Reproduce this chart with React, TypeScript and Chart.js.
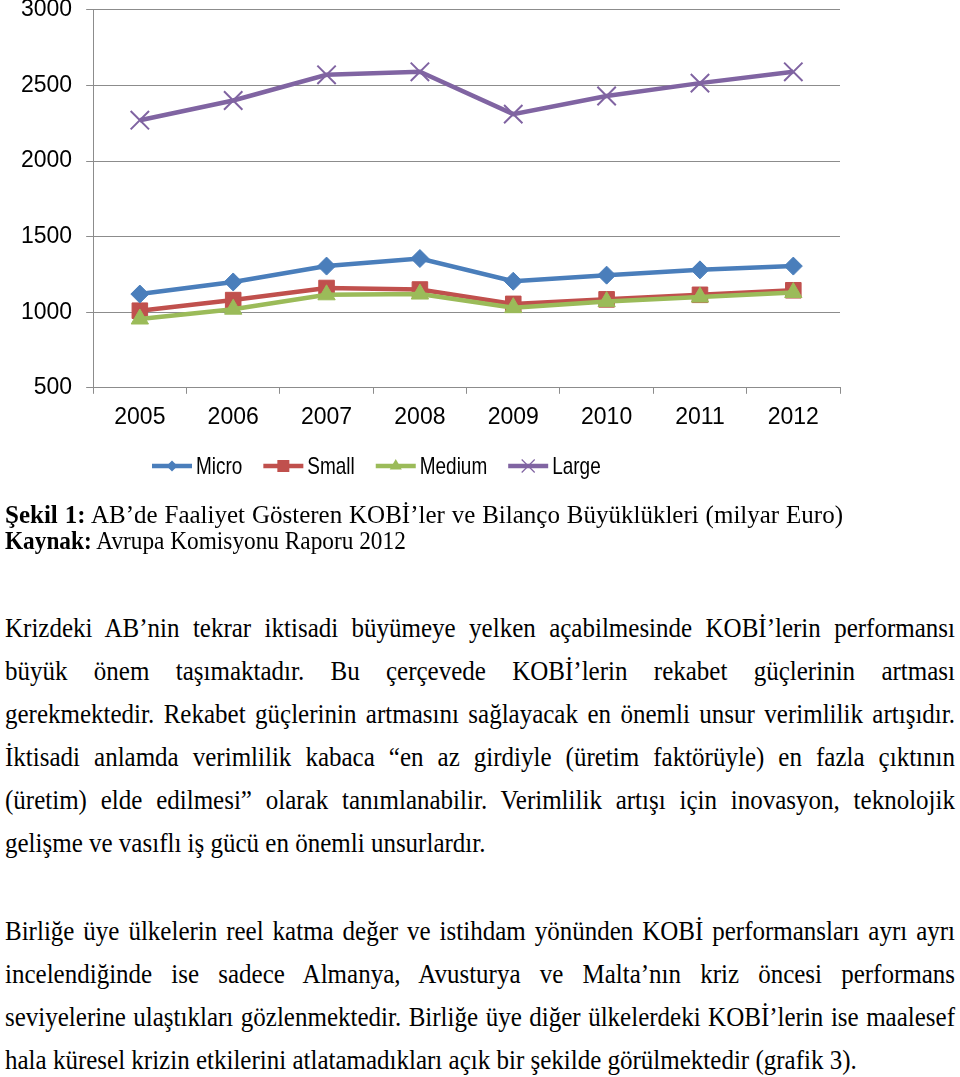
import React, { useEffect, useRef } from "react";
import { Chart, registerables } from "chart.js";

Chart.register(...registerables);

// ---- data ----
const years = ["2005", "2006", "2007", "2008", "2009", "2010", "2011", "2012"];
const micro = [1120, 1200, 1305, 1355, 1205, 1245, 1280, 1305];
const small = [1010, 1080, 1160, 1150, 1055, 1085, 1115, 1145];
const medium = [955, 1020, 1115, 1120, 1030, 1070, 1100, 1130];
const large = [2270, 2400, 2570, 2590, 2310, 2430, 2515, 2590];
const seriesNames = ["Micro", "Small", "Medium", "Large"];
const yMin = 500;
const yMax = 3000;
const yStep = 500;

const colors = ["#4A7EBB", "#C0504D", "#9BBB59", "#8064A2"];

const captionLine1Bold = "Şekil 1:";
const captionLine1 = " AB’de Faaliyet Gösteren KOBİ’ler ve Bilanço Büyüklükleri (milyar Euro)";
const captionLine2Bold = "Kaynak:";
const captionLine2 = " Avrupa Komisyonu Raporu 2012";

const para1 = [
  "Krizdeki AB’nin tekrar iktisadi büyümeye yelken açabilmesinde KOBİ’lerin performansı",
  "büyük önem taşımaktadır. Bu çerçevede KOBİ’lerin rekabet güçlerinin artması",
  "gerekmektedir. Rekabet güçlerinin artmasını sağlayacak en önemli unsur verimlilik artışıdır.",
  "İktisadi anlamda verimlilik kabaca “en az girdiyle (üretim faktörüyle) en fazla çıktının",
  "(üretim) elde edilmesi” olarak tanımlanabilir. Verimlilik artışı için inovasyon, teknolojik",
  "gelişme ve vasıflı iş gücü en önemli unsurlardır.",
];
const para2 = [
  "Birliğe üye ülkelerin reel katma değer ve istihdam yönünden KOBİ performansları ayrı ayrı",
  "incelendiğinde ise sadece Almanya, Avusturya ve Malta’nın kriz öncesi performans",
  "seviyelerine ulaştıkları gözlenmektedir. Birliğe üye diğer ülkelerdeki KOBİ’lerin ise maalesef",
  "hala küresel krizin etkilerini atlatamadıkları açık bir şekilde görülmektedir (grafik 3).",
];

const tickFont = "'Liberation Sans', Arial, sans-serif";
const serif = "'Liberation Serif', 'Times New Roman', serif";

const CANVAS_TOP = -18;

function drawMarker(ctx: CanvasRenderingContext2D, kind: number, x: number, y: number, color: string) {
  ctx.save();
  ctx.fillStyle = color;
  ctx.strokeStyle = color;
  ctx.beginPath();
  if (kind === 0) {
    const r = 5.5;
    ctx.moveTo(x - r, y);
    ctx.lineTo(x, y - r);
    ctx.lineTo(x + r, y);
    ctx.lineTo(x, y + r);
    ctx.closePath();
    ctx.fill();
  } else if (kind === 1) {
    const s = 6;
    ctx.rect(x - s, y - s, 2 * s, 2 * s);
    ctx.fill();
  } else if (kind === 2) {
    const r = 7;
    ctx.moveTo(x, y - r);
    ctx.lineTo(x + r * 0.866, y + r * 0.5);
    ctx.lineTo(x - r * 0.866, y + r * 0.5);
    ctx.closePath();
    ctx.fill();
  } else {
    const r = 6.5;
    ctx.lineWidth = 1.2;
    ctx.moveTo(x - r, y - r);
    ctx.lineTo(x + r, y + r);
    ctx.moveTo(x + r, y - r);
    ctx.lineTo(x - r, y + r);
    ctx.stroke();
  }
  ctx.restore();
}

const legendPlugin = {
  id: "excelLegend",
  afterDraw(chart: any) {
    const ctx: CanvasRenderingContext2D = chart.ctx;
    ctx.save();
    let x = 152;
    const y = 466 - CANVAS_TOP;
    ctx.font = `24px ${tickFont}`;
    ctx.textBaseline = "middle";
    ctx.textAlign = "left";
    chart.data.datasets.forEach((ds: any, i: number) => {
      const c = ds.borderColor as string;
      ctx.strokeStyle = c;
      ctx.lineWidth = 4.5;
      ctx.beginPath();
      ctx.moveTo(x, y);
      ctx.lineTo(x + 40, y);
      ctx.stroke();
      drawMarker(ctx, i, x + 20, y, c);
      const natural = ctx.measureText(ds.label).width;
      const w = natural * 0.79;
      ctx.fillStyle = "#000";
      ctx.fillText(ds.label, x + 44, y + 1, w);
      x = x + 44 + w + 21;
    });
    ctx.restore();
  },
};

function LineChart() {
  const ref = useRef<HTMLCanvasElement | null>(null);
  useEffect(() => {
    if (!ref.current) return;
    const seriesData = [micro, small, medium, large];
    const styles = ["rectRot", "rect", "triangle", "crossRot"];
    const radii = [9, 11, 10, 13];
    const orders = [2, 3, 1, 0];
    const chart = new Chart(ref.current, {
      type: "line",
      data: {
        labels: years,
        datasets: seriesNames.map((name, i) => ({
          label: name,
          data: seriesData[i],
          borderColor: colors[i],
          backgroundColor: colors[i],
          borderWidth: 4.5,
          pointStyle: styles[i] as any,
          pointRadius: radii[i],
          pointBackgroundColor: colors[i],
          pointBorderColor: colors[i],
          pointBorderWidth: i === 3 ? 2 : 1,
          tension: 0,
          order: orders[i],
          fill: false,
        })),
      },
      options: {
        responsive: false,
        animation: false,
        layout: { padding: { left: 7, right: 120, top: 0, bottom: 60.6 } },
        plugins: {
          legend: { display: false },
          tooltip: { enabled: false },
          title: { display: false },
        },
        scales: {
          x: {
            offset: true,
            grid: {
              offset: true,
              drawOnChartArea: false,
              drawTicks: true,
              tickLength: 6,
              color: "#8c8c8c",
            },
            border: { color: "#8c8c8c", width: 1 },
            ticks: {
              font: { family: tickFont, size: 23 },
              color: "#000",
              padding: 10,
              maxRotation: 0,
              autoSkip: false,
            },
          },
          y: {
            min: yMin,
            max: yMax,
            grid: { color: "#8c8c8c", tickLength: 7 },
            border: { color: "#8c8c8c", width: 1 },
            ticks: {
              stepSize: yStep,
              font: { family: tickFont, size: 23 },
              color: "#000",
              padding: 14,
              callback: (v: any) => String(v),
            },
          },
        },
      },
      plugins: [legendPlugin],
    });
    return () => chart.destroy();
  }, []);
  return <canvas ref={ref} width={960} height={520} style={{ display: "block" }} />;
}

function TextLine(props: {
  text: React.ReactNode;
  baseline: number;
  size: number;
  left: number;
  width: number;
  justify: boolean;
  scaleY: number;
}) {
  const { text, baseline, size, left, width, justify, scaleY } = props;
  const asc = 0.8375 * size;
  return (
    <div
      style={{
        position: "absolute",
        left,
        top: baseline - asc,
        width,
        fontFamily: serif,
        fontSize: size,
        lineHeight: `${size}px`,
        color: "#000",
        textAlign: justify ? "justify" : "left",
        textAlignLast: justify ? "justify" : "left",
        transform: `scaleY(${scaleY})`,
        transformOrigin: `0 ${asc}px`,
        whiteSpace: "normal",
      }}
    >
      {text}
    </div>
  );
}

export default function App() {
  const p1Base = [637, 680, 723, 766, 809, 852];
  const p2Base = [940, 983, 1026, 1069];
  return (
    <div
      style={{
        position: "absolute",
        left: 0,
        top: 0,
        width: 960,
        height: 1077,
        background: "#fff",
        overflow: "hidden",
      }}
    >
      <div style={{ position: "absolute", left: 0, top: CANVAS_TOP }}>
        <LineChart />
      </div>
      <TextLine
        text={
          <>
            <b>{captionLine1Bold}</b>
            {captionLine1}
          </>
        }
        baseline={523}
        size={25}
        left={5}
        width={838}
        justify={true}
        scaleY={1.05}
      />
      <TextLine
        text={
          <>
            <b>{captionLine2Bold}</b>
            {captionLine2}
          </>
        }
        baseline={550}
        size={23.3}
        left={5}
        width={600}
        justify={false}
        scaleY={1.08}
      />
      {para1.map((t, i) => (
        <TextLine
          key={"a" + i}
          text={t}
          baseline={p1Base[i]}
          size={25}
          left={5}
          width={i === para1.length - 1 ? 700 : 950}
          justify={i !== para1.length - 1}
          scaleY={1.1}
        />
      ))}
      {para2.map((t, i) => (
        <TextLine
          key={"b" + i}
          text={t}
          baseline={p2Base[i]}
          size={25}
          left={5}
          width={i === para2.length - 1 ? 940 : 950}
          justify={i !== para2.length - 1}
          scaleY={1.1}
        />
      ))}
    </div>
  );
}
